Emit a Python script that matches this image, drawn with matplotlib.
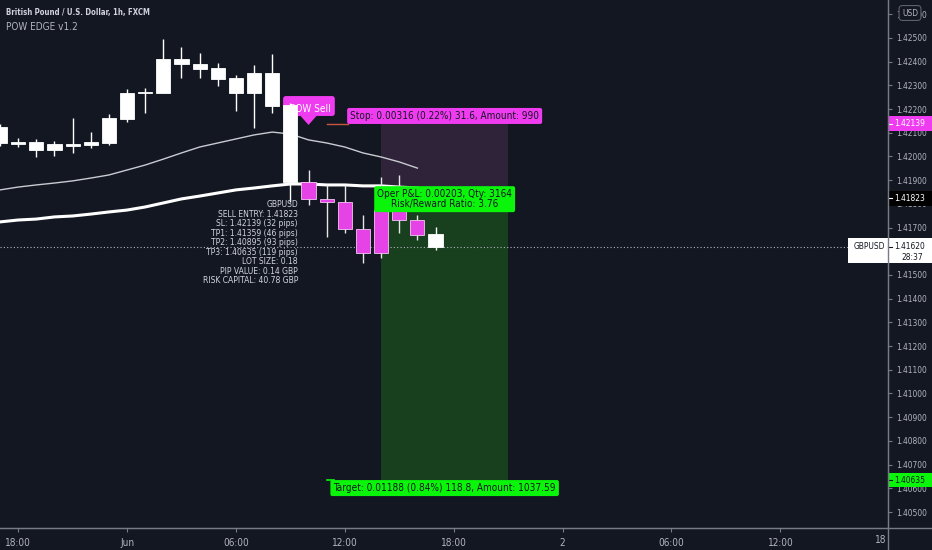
import matplotlib
matplotlib.use("Agg")
import matplotlib.pyplot as plt
from matplotlib.patches import Rectangle, Polygon, FancyBboxPatch
from matplotlib import font_manager

# hourly GBPUSD bars, index 0 = 31 May 12:00
opens = [1.42124, 1.42061, 1.42061, 1.42027, 1.42053, 1.42049, 1.42057, 1.42158,
         1.42272, 1.42268, 1.42411, 1.42390, 1.42373, 1.42331, 1.42268, 1.42352,
         1.42217, 1.41892, 1.41821, 1.41808, 1.41694, 1.41593, 1.41774, 1.41732,
         1.41673]
highs = [1.42137, 1.42078, 1.42074, 1.42065, 1.42162, 1.42103, 1.42179, 1.42285,
         1.42289, 1.42496, 1.42462, 1.42437, 1.42395, 1.42344, 1.42386, 1.42433,
         1.42226, 1.41943, 1.41880, 1.41880, 1.41753, 1.41914, 1.41922, 1.41753,
         1.41703]
lows = [1.42044, 1.42040, 1.41998, 1.42002, 1.42015, 1.42036, 1.42049, 1.42146,
        1.42184, 1.42268, 1.42331, 1.42331, 1.42297, 1.42192, 1.42120, 1.42184,
        1.41808, 1.41795, 1.41660, 1.41677, 1.41551, 1.41572, 1.41677, 1.41648,
        1.41605]
closes = [1.42057, 1.42053, 1.42027, 1.42053, 1.42044, 1.42061, 1.42162, 1.42268,
          1.42268, 1.42411, 1.42390, 1.42369, 1.42327, 1.42268, 1.42352, 1.42213,
          1.41892, 1.41821, 1.41808, 1.41694, 1.41593, 1.41774, 1.41732, 1.41669,
          1.41620]

ma_fast = [1.41859, 1.41871, 1.41880, 1.41888, 1.41897, 1.41909, 1.41922, 1.41943,
           1.41964, 1.41989, 1.42015, 1.42040, 1.42057, 1.42074, 1.42091, 1.42103,
           1.42095, 1.42070, 1.42057, 1.42040, 1.42015, 1.41998, 1.41977, 1.41951]
ma_slow = [1.41724, 1.41732, 1.41736, 1.41745, 1.41749, 1.41757, 1.41766, 1.41774,
           1.41787, 1.41804, 1.41821, 1.41833, 1.41846, 1.41859, 1.41867, 1.41876,
           1.41884, 1.41884, 1.41880, 1.41880, 1.41876, 1.41876, 1.41871, 1.41867]

entry = 1.41823
stop = 1.42139
target = 1.40635
last_price = 1.41620
zone_start, zone_end = 21, 28
signal_bar = 17

time_ticks = [1, 7, 13, 19, 25, 31, 37, 43]
time_labels = ["18:00", "Jun", "06:00", "12:00", "18:00", "2", "06:00", "12:00"]
price_ticks = [1.405 + 0.001 * k for k in range(22)]

info_lines = ["GBPUSD", "SELL ENTRY: 1.41823", "SL: 1.42139 (32 pips)",
              "TP1: 1.41359 (46 pips)", "TP2: 1.40895 (93 pips)",
              "TP3: 1.40635 (119 pips)", "LOT SIZE: 0.18", "PIP VALUE: 0.14 GBP",
              "RISK CAPITAL: 40.78 GBP"]

BG = "#131722"
TXT = "#b2b5be"
PINK = "#e543e5"
MAGENTA = "#f03cf0"
GREEN = "#0af50a"

# look for a condensed face, the chart font is narrow
cond = [f for f in font_manager.fontManager.ttflist
        if ("Condensed" in f.fname or "Narrow" in f.fname)
        and f.style == "normal"]
if cond:
    plt.rcParams["font.family"] = [cond[0].name, "DejaVu Sans"]
    plt.rcParams["font.stretch"] = cond[0].stretch
    fs = 7.2
else:
    plt.rcParams["font.family"] = ["Liberation Sans", "DejaVu Sans"]
    fs = 6.4
afs = fs * 0.84  # price scale text

fig = plt.figure(figsize=(9.32, 5.5), dpi=100, facecolor=BG)
ax = fig.add_axes([0, 22 / 550, 888 / 932, 528 / 550], facecolor=BG)
ax.set_xlim(0, 48.93)
ax.set_ylim(1.404325, 1.426603)

# trade zones
ax.fill_between([zone_start, zone_end], entry, stop, color="#2e2338", lw=0, zorder=1)
ax.fill_between([zone_start, zone_end], target, entry, color="#183f1e", lw=0, zorder=1)
ax.plot([18, 19.2], [stop - 0.00002, stop - 0.00002], color="#c8553d", lw=1, zorder=2)
ax.plot([18, 18.4], [target, target], color=GREEN, lw=1.2, zorder=2)

# current price dotted line
ax.plot([0, 46.7], [last_price, last_price], color=TXT, lw=0.8,
        ls=(0, (1, 2)), zorder=2)

# moving averages
ax.plot(range(len(ma_fast)), ma_fast, color="#c9cbd1", lw=1.0, zorder=3)
ax.plot(range(len(ma_slow)), ma_slow, color="white", lw=2.2, zorder=3)

# POW Sell label (under the candles)
ax.add_patch(FancyBboxPatch((15.6, 1.42171), 2.85, 0.00084,
                            boxstyle="round,pad=0,rounding_size=0.15",
                            mutation_aspect=0.00076, fc=MAGENTA, ec="none", zorder=3))
ax.add_patch(Polygon([[16.55, 1.42172], [17.45, 1.42172], [17.0, 1.42133]],
                     closed=True, fc=MAGENTA, ec="none", zorder=3))
ax.text(17.1, 1.42199, "POW Sell", color="white", fontsize=fs, ha="center",
        va="center", zorder=3.5)

# candles
for i in range(len(opens)):
    col = PINK if signal_bar <= i < len(opens) - 1 else "white"
    edge = "#f3c6f3" if col == PINK else "white"
    lo_b = min(opens[i], closes[i])
    h_b = max(abs(closes[i] - opens[i]), 0.00006)
    ax.vlines(i, lows[i], highs[i], color="#e6e6e6" if col == PINK else "white",
              lw=1, zorder=4)
    ax.bar(i, h_b, bottom=lo_b, width=0.78, color=col, edgecolor=edge,
           lw=0.6, zorder=5)

# info block
for k, line in enumerate(info_lines):
    ax.annotate(line, xy=(16.42, 1.41797), xytext=(0, -k * 6.85),
                textcoords="offset points", ha="right", va="center",
                color="#d1d4dc", fontsize=fs - 1.1, zorder=6)

# position labels
ax.text(24.5, 1.42171, "Stop: 0.00316 (0.22%) 31.6, Amount: 990", color="#131722",
        fontsize=fs, ha="center", va="center", zorder=7,
        bbox=dict(boxstyle="round,pad=0.3,rounding_size=0.2", fc=MAGENTA, ec="none"))
ax.text(24.5, 1.41820, "Oper P&L: 0.00203, Qty: 3164\nRisk/Reward Ratio: 3.76",
        color="#131722", fontsize=fs, ha="center", va="center", linespacing=1.0,
        zorder=7,
        bbox=dict(boxstyle="round,pad=0.3,rounding_size=0.2", fc=GREEN, ec="none"))
ax.text(24.5, 1.40601, "Target: 0.01188 (0.84%) 118.8, Amount: 1037.59",
        color="#131722", fontsize=fs, ha="center", va="center", zorder=7,
        bbox=dict(boxstyle="round,pad=0.3,rounding_size=0.2", fc=GREEN, ec="none"))

# axes styling
for s in ["top", "left"]:
    ax.spines[s].set_visible(False)
ax.spines["right"].set_color("#787b86")
ax.spines["bottom"].set_color("#787b86")
ax.yaxis.tick_right()
ax.set_yticks(price_ticks)
ax.set_yticklabels([f"{v:.5f}" for v in price_ticks])
ax.tick_params(axis="y", colors="#787b86", labelcolor=TXT, labelsize=afs,
               length=3, pad=3)
ax.set_xticks(time_ticks)
ax.set_xticklabels(time_labels)
ax.tick_params(axis="x", colors="#787b86", labelcolor=TXT, labelsize=fs,
               length=3, pad=4)
fig.text(886 / 932, 1 - 540 / 550, "18", color=TXT, fontsize=fs, ha="right",
         va="center")

# price axis tags
yt = ax.get_yaxis_transform()
tag_h = 0.00063
lx = 1.0 + 6 / 888


def tag(price, text, fc, tc):
    ax.add_patch(Rectangle((1.0, price - tag_h / 2), 0.0495, tag_h, transform=yt,
                           fc=fc, ec="none", clip_on=False, zorder=8))
    ax.plot([1.0, 1.0 + 4 / 888], [price, price], transform=yt, color=tc, lw=0.8,
            clip_on=False, zorder=9)
    ax.text(lx, price, text, transform=yt, color=tc, fontsize=afs,
            ha="left", va="center", clip_on=False, zorder=9)


tag(stop, "1.42139", MAGENTA, "white")
tag(entry, "1.41823", "black", "white")
tag(target, "1.40635", GREEN, "#131722")

ax.add_patch(Rectangle((0.955, last_price - 0.00071), 0.0495 + 0.045, 0.00106,
                       transform=yt, fc="white", ec="none", clip_on=False, zorder=8))
ax.plot([1.0, 1.0 + 4 / 888], [last_price, last_price], transform=yt,
        color="#131722", lw=0.8, clip_on=False, zorder=9)
ax.text(0.961, last_price - 0.00001, "GBPUSD", transform=yt, color="#131722",
        fontsize=afs, ha="left", va="center", clip_on=False, zorder=9)
ax.text(lx, last_price - 0.00001, "1.41620", transform=yt, color="#131722",
        fontsize=afs, ha="left", va="center", clip_on=False, zorder=9)
ax.text(1.0400, last_price - 0.00046, "28:37", transform=yt, color="#131722",
        fontsize=afs, ha="right", va="center", clip_on=False, zorder=9)

# currency badge
fig.text(910 / 932, 1 - 13 / 550, "USD", color=TXT, fontsize=afs, ha="center",
         va="center", zorder=10,
         bbox=dict(boxstyle="round,pad=0.35,rounding_size=0.4", fc=BG, ec="#5d606b",
                   lw=0.8))

# frame lines
fig.add_artist(plt.Line2D([888 / 932, 888 / 932], [0, 1], color="#787b86", lw=1))
fig.add_artist(plt.Line2D([0, 1], [22 / 550, 22 / 550], color="#787b86", lw=1))

# titles
fig.text(6 / 932, 1 - 13 / 550, "British Pound / U.S. Dollar, 1h, FXCM", color="#d1d4dc",
         fontsize=fs * 0.78, fontweight="bold", ha="left", va="center")
fig.text(6 / 932, 1 - 27 / 550, "POW EDGE v1.2", color="#b2b5be", fontsize=fs,
         ha="left", va="center")

fig.savefig("out.png", dpi=100, facecolor=BG)
